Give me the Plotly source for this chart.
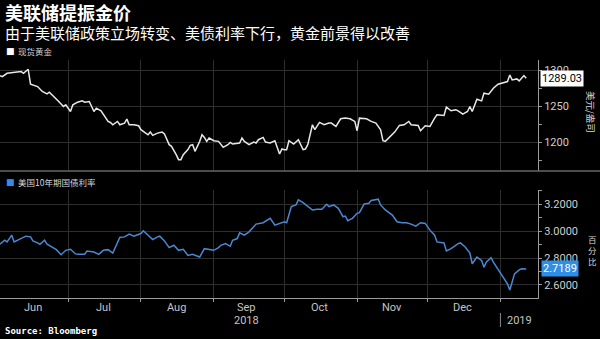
import plotly.graph_objects as go

# ---------------- data ----------------
gold_dates = [
    "2018-06-02", "2018-06-03", "2018-06-05", "2018-06-08", "2018-06-11", "2018-06-12", "2018-06-13",
    "2018-06-14", "2018-06-15", "2018-06-18", "2018-06-20", "2018-06-22", "2018-06-23", "2018-06-25",
    "2018-06-27", "2018-06-29", "2018-06-30", "2018-07-02", "2018-07-03", "2018-07-05", "2018-07-07",
    "2018-07-08", "2018-07-10", "2018-07-12", "2018-07-13", "2018-07-15", "2018-07-16", "2018-07-18",
    "2018-07-19", "2018-07-20", "2018-07-22", "2018-07-23", "2018-07-25", "2018-07-26", "2018-07-27",
    "2018-07-29", "2018-07-31", "2018-08-01", "2018-08-04", "2018-08-05", "2018-08-06", "2018-08-08",
    "2018-08-10", "2018-08-11", "2018-08-13", "2018-08-14", "2018-08-16", "2018-08-17", "2018-08-18",
    "2018-08-19", "2018-08-21", "2018-08-22", "2018-08-23", "2018-08-24", "2018-08-26", "2018-08-27",
    "2018-08-28", "2018-08-29", "2018-08-30", "2018-09-01", "2018-09-03", "2018-09-05", "2018-09-07",
    "2018-09-08", "2018-09-09", "2018-09-12", "2018-09-13", "2018-09-14", "2018-09-16", "2018-09-18",
    "2018-09-19", "2018-09-20", "2018-09-22", "2018-09-23", "2018-09-25", "2018-09-27", "2018-09-29",
    "2018-09-30", "2018-10-01", "2018-10-02", "2018-10-03", "2018-10-05", "2018-10-07", "2018-10-09",
    "2018-10-10", "2018-10-11", "2018-10-13", "2018-10-14", "2018-10-16", "2018-10-18", "2018-10-20",
    "2018-10-21", "2018-10-23", "2018-10-25", "2018-10-27", "2018-10-29", "2018-10-31", "2018-11-01",
    "2018-11-02", "2018-11-05", "2018-11-07", "2018-11-09", "2018-11-11", "2018-11-12", "2018-11-13",
    "2018-11-15", "2018-11-17", "2018-11-19", "2018-11-21", "2018-11-23", "2018-11-24", "2018-11-27",
    "2018-11-28", "2018-11-30", "2018-12-02", "2018-12-04", "2018-12-05", "2018-12-08", "2018-12-09",
    "2018-12-11", "2018-12-13", "2018-12-14", "2018-12-16", "2018-12-18", "2018-12-19", "2018-12-20",
    "2018-12-22", "2018-12-24", "2018-12-25", "2018-12-27", "2018-12-29", "2018-12-31", "2019-01-02",
    "2019-01-04", "2019-01-05", "2019-01-06", "2019-01-08", "2019-01-09", "2019-01-11", "2019-01-12",
]
gold_values = [
    1292.6, 1291.2, 1295.8, 1296.8, 1298.2, 1295.8, 1299.1,
    1301.4, 1280.6, 1277.4, 1270.5, 1267.2, 1269.5, 1263.5,
    1256.6, 1249.7, 1252.0, 1242.7, 1252.0, 1255.7, 1257.5,
    1255.7, 1256.6, 1242.7, 1247.4, 1243.7, 1238.1, 1228.9,
    1227.5, 1224.3, 1228.9, 1224.3, 1226.6, 1232.1, 1224.3,
    1224.3, 1222.9, 1217.4, 1210.4, 1214.1, 1209.5, 1212.7,
    1214.1, 1211.4, 1196.6, 1194.3, 1182.7, 1175.8, 1175.8,
    1182.7, 1189.7, 1195.7, 1196.6, 1187.3, 1201.2, 1210.4,
    1206.7, 1201.2, 1205.8, 1202.1, 1201.2, 1192.9, 1196.6,
    1199.8, 1197.5, 1198.9, 1205.8, 1201.2, 1196.6, 1200.3,
    1198.9, 1203.5, 1206.7, 1200.3, 1198.9, 1202.1, 1183.7,
    1190.6, 1189.7, 1189.7, 1202.1, 1197.5, 1203.5, 1189.7,
    1190.6, 1196.6, 1224.3, 1217.4, 1227.5, 1224.3, 1226.6,
    1226.6, 1222.0, 1232.6, 1233.5, 1232.6, 1228.9, 1216.0,
    1233.5, 1232.6, 1228.9, 1226.6, 1217.4, 1202.1, 1201.2,
    1208.1, 1214.1, 1223.4, 1224.3, 1228.9, 1224.3, 1223.4,
    1216.0, 1222.9, 1222.0, 1233.5, 1238.1, 1237.2, 1248.8,
    1243.7, 1245.1, 1243.7, 1239.1, 1242.7, 1249.7, 1242.7,
    1259.8, 1257.5, 1268.1, 1266.8, 1275.1, 1280.6, 1282.0,
    1284.3, 1293.5, 1286.6, 1288.0, 1285.2, 1292.6, 1289.03,
]

bond_dates = [
    "2018-06-02", "2018-06-04", "2018-06-05", "2018-06-06", "2018-06-07", "2018-06-08", "2018-06-10",
    "2018-06-11", "2018-06-13", "2018-06-15", "2018-06-16", "2018-06-18", "2018-06-19", "2018-06-21",
    "2018-06-22", "2018-06-24", "2018-06-26", "2018-06-28", "2018-06-30", "2018-07-02", "2018-07-04",
    "2018-07-05", "2018-07-08", "2018-07-09", "2018-07-12", "2018-07-14", "2018-07-16", "2018-07-18",
    "2018-07-20", "2018-07-23", "2018-07-25", "2018-07-27", "2018-07-29", "2018-07-30", "2018-08-01",
    "2018-08-02", "2018-08-04", "2018-08-06", "2018-08-08", "2018-08-09", "2018-08-11", "2018-08-13",
    "2018-08-15", "2018-08-17", "2018-08-19", "2018-08-21", "2018-08-23", "2018-08-25", "2018-08-26",
    "2018-08-28", "2018-08-31", "2018-09-01", "2018-09-03", "2018-09-04", "2018-09-06", "2018-09-08",
    "2018-09-09", "2018-09-11", "2018-09-12", "2018-09-14", "2018-09-16", "2018-09-19", "2018-09-22",
    "2018-09-25", "2018-09-27", "2018-09-29", "2018-10-01", "2018-10-02", "2018-10-04", "2018-10-06",
    "2018-10-07", "2018-10-09", "2018-10-11", "2018-10-13", "2018-10-15", "2018-10-17", "2018-10-19",
    "2018-10-20", "2018-10-22", "2018-10-24", "2018-10-26", "2018-10-27", "2018-10-28", "2018-10-30",
    "2018-11-01", "2018-11-02", "2018-11-04", "2018-11-06", "2018-11-07", "2018-11-10", "2018-11-11",
    "2018-11-13", "2018-11-16", "2018-11-18", "2018-11-20", "2018-11-22", "2018-11-24", "2018-11-26",
    "2018-11-28", "2018-11-30", "2018-12-02", "2018-12-04", "2018-12-05", "2018-12-08", "2018-12-09",
    "2018-12-11", "2018-12-14", "2018-12-15", "2018-12-17", "2018-12-19", "2018-12-20", "2018-12-22",
    "2018-12-24", "2018-12-25", "2018-12-26", "2018-12-28", "2018-12-29", "2018-12-31", "2019-01-02",
    "2019-01-04", "2019-01-05", "2019-01-06", "2019-01-07", "2019-01-09", "2019-01-10", "2019-01-12",
]
bond_values = [
    2.9025, 2.9325, 2.9200, 2.9450, 2.9700, 2.9200, 2.9375,
    2.9500, 2.9625, 2.9575, 2.9275, 2.9125, 2.9025, 2.9325,
    2.9025, 2.8825, 2.8625, 2.8250, 2.8575, 2.8650, 2.8325,
    2.8275, 2.8275, 2.8525, 2.8450, 2.8275, 2.8575, 2.8625,
    2.8375, 2.9525, 2.9575, 2.9775, 2.9625, 2.9700, 2.9825,
    3.0025, 2.9700, 2.9375, 2.9575, 2.9625, 2.9275, 2.8775,
    2.8950, 2.8575, 2.8650, 2.8200, 2.8275, 2.8125, 2.8075,
    2.8700, 2.8575, 2.8575, 2.8775, 2.8950, 2.9075, 2.8875,
    2.9325, 2.9450, 2.9875, 2.9700, 2.9950, 3.0525, 3.0625,
    3.0950, 3.0450, 3.0575, 3.0700, 3.0625, 3.1825, 3.1950,
    3.2325, 3.2125, 3.1825, 3.1575, 3.1625, 3.1625, 3.2000,
    3.1825, 3.1950, 3.1700, 3.1075, 3.1125, 3.0775, 3.0950,
    3.1325, 3.1375, 3.2025, 3.2075, 3.2275, 3.2375, 3.1950,
    3.1575, 3.1200, 3.0700, 3.0625, 3.0625, 3.0525, 3.0375,
    3.0625, 3.0575, 3.0075, 2.9700, 2.9200, 2.9125, 2.8525,
    2.8700, 2.9075, 2.9125, 2.8825, 2.8375, 2.7575, 2.8075,
    2.7825, 2.7325, 2.7700, 2.8025, 2.7700, 2.7125, 2.6575,
    2.6075, 2.5625, 2.6325, 2.6825, 2.7125, 2.7200, 2.7189,
]

month_labels = ["Jun", "Jul", "Aug", "Sep", "Oct", "Nov", "Dec"]
month_label_dates = ["2018-06-16", "2018-07-16", "2018-08-16", "2018-09-15",
                     "2018-10-16", "2018-11-16", "2018-12-16"]
year_labels = ["2018", "2019"]
year_label_dates = ["2018-09-15", "2019-01-09"]
x_range = ["2018-06-02", "2019-01-17"]
gold_range = [1160.0, 1314.3]
bond_range = [2.503, 3.306]

title = "美联储提振金价"
subtitle = "由于美联储政策立场转变、美债利率下行，黄金前景得以改善"
gold_name = "现货黄金"
bond_name = "美国10年期国债利率"
gold_unit = "美元/盎司"
bond_unit = "百<br>分<br>比"
source = "Source: Bloomberg"

# ---------------- styling ----------------
BG = "#000000"
GRID = "#2e2e2e"
AXIS = "#9a9a9a"
TICK_TXT = "#cfcfcf"
GOLD_C = "#e8e8e8"
BOND_C = "#4a88d2"
BOND_BOX = "#2f8ee6"
CJK = "Noto Sans CJK SC"
NUM = "Roboto, Liberation Sans, sans-serif"

W, H = 600, 339
ML, MR, MT, MB = 0, 62, 60, 41
plot_h = H - MT - MB  # 238


def py(pix):
    """paper y from pixel row"""
    return (H - MB - pix) / plot_h


def px(pix):
    return (pix - ML) / (W - ML - MR)


fig = go.Figure()
fig.add_trace(go.Scatter(x=gold_dates, y=gold_values, mode="lines",
                         line=dict(color=GOLD_C, width=1.5),
                         xaxis="x", yaxis="y", hoverinfo="skip", showlegend=False))
fig.add_trace(go.Scatter(x=bond_dates, y=bond_values, mode="lines",
                         line=dict(color=BOND_C, width=1.5),
                         xaxis="x2", yaxis="y2", hoverinfo="skip", showlegend=False))

common_x = dict(range=x_range, type="date", tick0="2018-06-01", dtick="M1",
                showgrid=True, gridcolor=GRID, gridwidth=1, zeroline=False,
                showticklabels=False)

top_dom = [py(171), 1.0]
bot_dom = [0.0, py(190)]

fig.update_layout(
    width=W, height=H,
    paper_bgcolor=BG, plot_bgcolor=BG,
    margin=dict(l=ML, r=MR, t=MT, b=MB),
    showlegend=False,
    xaxis=dict(**common_x, anchor="y", domain=[0, 1], ticks=""),
    xaxis2=dict(**common_x, anchor="y2", domain=[0, 1], matches="x",
                ticks="outside", ticklen=3, tickcolor=AXIS,
                showline=True, linecolor=AXIS, linewidth=1),
    yaxis=dict(domain=top_dom, anchor="x", side="right", range=gold_range,
               tick0=1200, dtick=50, showgrid=True, gridcolor=GRID, zeroline=False,
               showline=True, linecolor=AXIS, linewidth=1,
               ticks="outside", ticklen=3, tickcolor=AXIS,
               tickfont=dict(family=NUM, size=11, color=TICK_TXT),
               minor=dict(dtick=25, ticks="outside", ticklen=3, tickcolor=AXIS, showgrid=False)),
    yaxis2=dict(domain=bot_dom, anchor="x2", side="right", range=bond_range,
                tick0=2.6, dtick=0.2, tickformat=".4f", showgrid=True, gridcolor=GRID,
                zeroline=False, showline=True, linecolor=AXIS, linewidth=1,
                ticks="outside", ticklen=3, tickcolor=AXIS,
                tickfont=dict(family=NUM, size=11, color=TICK_TXT),
                minor=dict(dtick=0.1, ticks="outside", ticklen=3, tickcolor=AXIS, showgrid=False)),
)

ann = []
# title / subtitle
ann.append(dict(text=f"<b>{title}</b>", x=px(3), y=py(12), xref="paper", yref="paper",
                xanchor="left", yanchor="middle", showarrow=False,
                font=dict(family=CJK, size=18, color="#ffffff")))
ann.append(dict(text=subtitle, x=px(3), y=py(32.5), xref="paper", yref="paper",
                xanchor="left", yanchor="middle", showarrow=False,
                font=dict(family=CJK, size=15, color="#ffffff")))
# legends
ann.append(dict(text="■", x=px(4), y=py(51.5), xref="paper", yref="paper",
                xanchor="left", yanchor="middle", showarrow=False,
                font=dict(family="DejaVu Sans", size=9, color="#ffffff")))
ann.append(dict(text=gold_name, x=px(16), y=py(51.5), xref="paper", yref="paper",
                xanchor="left", yanchor="middle", showarrow=False,
                font=dict(family=CJK, size=8.5, color="#d4d4d4")))
ann.append(dict(text="■", x=px(4), y=py(182), xref="paper", yref="paper",
                xanchor="left", yanchor="middle", showarrow=False,
                font=dict(family="DejaVu Sans", size=9, color=BOND_BOX)))
ann.append(dict(text=bond_name, x=px(16), y=py(182), xref="paper", yref="paper",
                xanchor="left", yanchor="middle", showarrow=False,
                font=dict(family=CJK, size=8.5, color="#d4d4d4")))
# last value boxes
ann.append(dict(text=f"{gold_values[-1]:.2f}", x=1.0, xshift=2, y=gold_values[-1],
                xref="paper", yref="y", xanchor="left", yanchor="middle", showarrow=False,
                bgcolor="#ffffff", borderpad=1,
                font=dict(family=NUM, size=11, color="#000000")))
ann.append(dict(text=f"{bond_values[-1]:.4f}", x=1.0, xshift=3, y=bond_values[-1],
                xref="paper", yref="y2", xanchor="left", yanchor="middle", showarrow=False,
                bgcolor=BOND_BOX, borderpad=1,
                font=dict(family=NUM, size=11, color="#ffffff")))
# axis unit titles
ann.append(dict(text=gold_unit, x=px(591), y=py(112), xref="paper", yref="paper",
                xanchor="center", yanchor="middle", showarrow=False, textangle=90,
                font=dict(family=CJK, size=9.5, color="#d4d4d4")))
ann.append(dict(text=bond_unit, x=px(592), y=py(250), xref="paper", yref="paper",
                xanchor="center", yanchor="middle", showarrow=False,
                font=dict(family=CJK, size=8.5, color="#d4d4d4")))
# month labels
for lab, d in zip(month_labels, month_label_dates):
    ann.append(dict(text=lab, x=d, y=py(307.5), xref="x2", yref="paper",
                    xanchor="center", yanchor="middle", showarrow=False,
                    font=dict(family=NUM, size=11, color="#c4c4c4")))
for lab, d in zip(year_labels, year_label_dates):
    ann.append(dict(text=lab, x=d, y=py(320), xref="x2", yref="paper",
                    xanchor="center", yanchor="middle", showarrow=False,
                    font=dict(family=NUM, size=11, color="#c4c4c4")))
# source
ann.append(dict(text=f"<b>{source}</b>", x=px(3), y=py(330.5), xref="paper", yref="paper",
                xanchor="left", yanchor="middle", showarrow=False,
                font=dict(family="DejaVu Sans Mono", size=9, color="#ffffff")))
fig.update_layout(annotations=ann)

fig.update_layout(shapes=[
    dict(type="line", xref="paper", yref="paper", x0=0, x1=px(600), y0=py(171), y1=py(171),
         line=dict(color="#666666", width=1.5)),
    dict(type="line", xref="x2", yref="paper", x0="2019-01-01", x1="2019-01-01",
         y0=py(313), y1=py(327), line=dict(color="#8a8a8a", width=1)),
])

fig.write_html("out.html", config={"displayModeBar": False})
